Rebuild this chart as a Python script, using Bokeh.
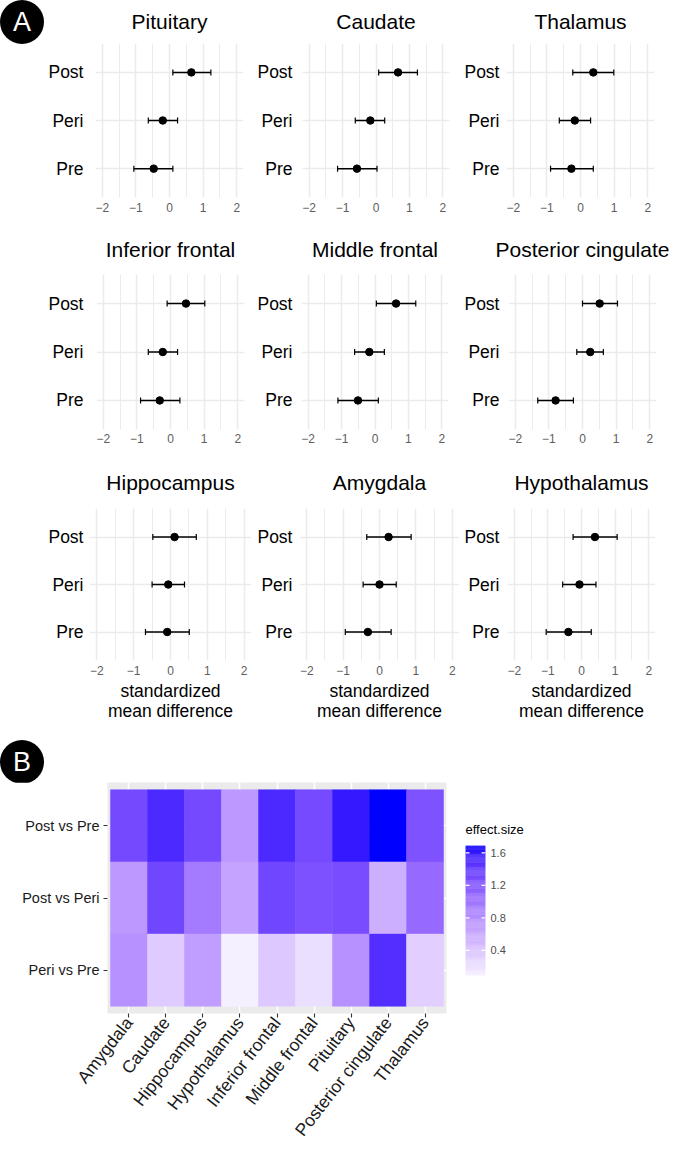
import math
from bokeh.plotting import figure
from bokeh.models import (ColumnDataSource, FactorRange, Range1d, FixedTicker, Whisker, TeeHead,
                          LinearColorMapper, Spacer, Div)
from bokeh.layouts import row, column
from bokeh.embed import file_html
from bokeh.resources import INLINE

FONT = "Liberation Sans"

# ---------------- data: panel A (order Post, Peri, Pre) ----------------
timepoints = ["Post", "Peri", "Pre"]
x_ticks = [-2, -1, 0, 1, 2]

pituitary_mean = [0.65, -0.20, -0.47]
pituitary_lo = [0.10, -0.63, -1.06]
pituitary_hi = [1.23, 0.24, 0.10]

caudate_mean = [0.66, -0.17, -0.57]
caudate_lo = [0.08, -0.62, -1.15]
caudate_hi = [1.24, 0.26, 0.03]

thalamus_mean = [0.38, -0.17, -0.27]
thalamus_lo = [-0.23, -0.63, -0.89]
thalamus_hi = [0.99, 0.30, 0.38]

inferior_frontal_mean = [0.46, -0.23, -0.32]
inferior_frontal_lo = [-0.10, -0.66, -0.89]
inferior_frontal_hi = [1.02, 0.21, 0.28]

middle_frontal_mean = [0.63, -0.17, -0.51]
middle_frontal_lo = [0.04, -0.61, -1.11]
middle_frontal_hi = [1.22, 0.28, 0.10]

posterior_cingulate_mean = [0.51, 0.23, -0.80]
posterior_cingulate_lo = [0.00, -0.17, -1.33]
posterior_cingulate_hi = [1.04, 0.62, -0.27]

hippocampus_mean = [0.11, -0.06, -0.09]
hippocampus_lo = [-0.48, -0.50, -0.68]
hippocampus_hi = [0.70, 0.38, 0.51]

amygdala_mean = [0.25, 0.00, -0.32]
amygdala_lo = [-0.35, -0.45, -0.94]
amygdala_hi = [0.87, 0.46, 0.32]

hypothalamus_mean = [0.40, -0.06, -0.39]
hypothalamus_lo = [-0.25, -0.56, -1.05]
hypothalamus_hi = [1.06, 0.43, 0.29]

# ---------------- data: panel B ----------------
heat_regions = ["Amygdala", "Caudate", "Hippocampus", "Hypothalamus", "Inferior frontal",
                "Middle frontal", "Pituitary", "Posterior cingulate", "Thalamus"]
comparisons = ["Post vs Pre", "Post vs Peri", "Peri vs Pre"]
es_post_vs_pre = [1.32, 1.53, 1.32, 0.73, 1.53, 1.31, 1.61, 1.69, 1.26]
es_post_vs_peri = [0.73, 1.34, 0.97, 0.65, 1.34, 1.27, 1.29, 0.57, 1.08]
es_peri_vs_pre = [0.79, 0.36, 0.70, 0.09, 0.38, 0.22, 0.79, 1.50, 0.33]
legend_ticks = [0.4, 0.8, 1.2, 1.6]


def forest(title, mean, lo, hi, geo, xlabel=None):
    mbl, fw, mbr, mbt, fh, mbb, tstand, ystand, xstand = geo
    p = figure(width=mbl + fw + mbr, height=mbt + fh + mbb,
               x_range=Range1d(-2.2, 2.2),
               y_range=FactorRange(factors=["Pre", "Peri", "Post"], range_padding=0.1,
                                   range_padding_units="absolute"),
               min_border_left=mbl, min_border_right=mbr, min_border_top=mbt, min_border_bottom=mbb,
               output_backend="svg", toolbar_location=None, title=title)
    p.outline_line_color = None
    p.title.text_font = FONT
    p.title.text_font_size = "21px"
    p.title.text_font_style = "normal"
    p.title.text_color = "black"
    p.title.align = "center"
    p.title.vertical_align = "top"
    p.title.standoff = tstand

    p.xaxis.ticker = FixedTicker(ticks=x_ticks, minor_ticks=[-1.5, -0.5, 0.5, 1.5])
    for ax in (p.xaxis[0], p.yaxis[0]):
        ax.axis_line_color = None
        ax.major_tick_line_color = None
        ax.minor_tick_line_color = None
        ax.major_tick_in = 0
        ax.major_tick_out = 0
        ax.major_label_text_font = FONT
    p.xaxis.major_label_text_font_size = "12px"
    p.xaxis.major_label_text_color = "#5e5e5e"
    p.xaxis.major_label_standoff = xstand
    p.yaxis.major_label_text_font_size = "17.5px"
    p.yaxis.major_label_text_color = "black"
    p.yaxis.major_label_standoff = ystand
    if xlabel:
        p.xaxis.axis_label = xlabel
        p.xaxis.axis_label_text_font = FONT
        p.xaxis.axis_label_text_font_size = "17.5px"
        p.xaxis.axis_label_text_font_style = "normal"
        p.xaxis.axis_label_text_color = "black"
        p.xaxis.axis_label_standoff = 3
        p.xaxis.axis_label_text_line_height = 1.0

    p.xgrid.grid_line_color = "#EBEBEB"
    p.xgrid.grid_line_width = 1.5
    p.xgrid.minor_grid_line_color = "#EBEBEB"
    p.xgrid.minor_grid_line_width = 1.0
    p.ygrid.grid_line_color = "#EBEBEB"
    p.ygrid.grid_line_width = 1.5

    src = ColumnDataSource(dict(cat=timepoints, m=mean, lo=lo, hi=hi))
    w = Whisker(source=src, base="cat", lower="lo", upper="hi", dimension="width",
                line_color="black", line_width=1.5,
                lower_head=TeeHead(size=6, line_width=1.2, line_color="black"),
                upper_head=TeeHead(size=6, line_width=1.2, line_color="black"))
    p.add_layout(w)
    p.scatter("m", "cat", source=src, size=7.5, color="black")
    return p


def badge(letter, w, h, top):
    html = ('<div style="margin:0;margin-top:%dpx;width:44px;height:44px;border-radius:22px;'
            'background:#000;color:#fff;font-family:\'Liberation Sans\';font-size:27px;'
            'line-height:44px;text-align:center;">%s</div>' % (top, letter))
    return Div(text=html, width=w, height=h, margin=0)


# geometry: mbl, frame_w, mbr, mbt, frame_h, mbb, title standoff, y-label standoff, x-label standoff
r1 = [(51, 148, 4), (55, 147, 7), (50, 148, 25)]
r2 = [(52, 148, 8), (49, 147, 8), (52, 148, 23)]
r3 = [(45, 162, 2), (46, 160, 2), (46, 148, 26)]
r1y, r2y, r3y = (43, 154, 27), (50, 155, 25), (54, 152, 68)
ys1, ys2, ys3 = [12, 10, 7], [13, 9, 9], [6, 7, 8]
t1, t2, t3 = 17, 24, 26
xs1, xs2, xs3 = 1, 0, 1

f1 = forest("Pituitary", pituitary_mean, pituitary_lo, pituitary_hi, r1[0] + r1y + (t1, ys1[0], xs1))
f2 = forest("Caudate", caudate_mean, caudate_lo, caudate_hi, r1[1] + r1y + (t1, ys1[1], xs1))
f3 = forest("Thalamus", thalamus_mean, thalamus_lo, thalamus_hi, r1[2] + r1y + (t1, ys1[2], xs1))
f4 = forest("Inferior frontal", inferior_frontal_mean, inferior_frontal_lo, inferior_frontal_hi, r2[0] + r2y + (t2, ys2[0], xs2))
f5 = forest("Middle frontal", middle_frontal_mean, middle_frontal_lo, middle_frontal_hi, r2[1] + r2y + (t2, ys2[1], xs2))
f6 = forest("Posterior cingulate", posterior_cingulate_mean, posterior_cingulate_lo, posterior_cingulate_hi, r2[2] + r2y + (t2, ys2[2], xs2))
xl = "standardized\nmean difference"
f7 = forest("Hippocampus", hippocampus_mean, hippocampus_lo, hippocampus_hi, r3[0] + r3y + (t3, ys3[0], xs3), xl)
f8 = forest("Amygdala", amygdala_mean, amygdala_lo, amygdala_hi, r3[1] + r3y + (t3, ys3[1], xs3), xl)
f9 = forest("Hypothalamus", hypothalamus_mean, hypothalamus_lo, hypothalamus_hi, r3[2] + r3y + (t3, ys3[2], xs3), xl)

badge_a = badge("A", 44, 224, 0)
badge_b = badge("B", 60, 54, 12)


# ---------------- panel B heatmap ----------------
def hex_to_lab(h):
    rgb = [int(h[i:i + 2], 16) / 255 for i in (1, 3, 5)]
    lin = [c / 12.92 if c <= 0.04045 else ((c + 0.055) / 1.055) ** 2.4 for c in rgb]
    X = (0.4124564 * lin[0] + 0.3575761 * lin[1] + 0.1804375 * lin[2]) / 0.95047
    Y = 0.2126729 * lin[0] + 0.7151522 * lin[1] + 0.0721750 * lin[2]
    Z = (0.0193339 * lin[0] + 0.1191920 * lin[1] + 0.9503041 * lin[2]) / 1.08883
    f = lambda t: t ** (1 / 3) if t > 0.008856 else 7.787 * t + 16 / 116
    fx, fy, fz = f(X), f(Y), f(Z)
    return 116 * fy - 16, 500 * (fx - fy), 200 * (fy - fz)


def lab_to_hex(L, a, b):
    fy = (L + 16) / 116
    fx = fy + a / 500
    fz = fy - b / 200
    finv = lambda t: t ** 3 if t ** 3 > 0.008856 else (t - 16 / 116) / 7.787
    X, Y, Z = 0.95047 * finv(fx), finv(fy), 1.08883 * finv(fz)
    r = 3.2404542 * X - 1.5371385 * Y - 0.4985314 * Z
    g = -0.9692660 * X + 1.8760108 * Y + 0.0415560 * Z
    bb = 0.0556434 * X - 0.2040259 * Y + 1.0572252 * Z

    def gam(c):
        c = min(max(c, 0.0), 1.0)
        return 12.92 * c if c <= 0.0031308 else 1.055 * c ** (1 / 2.4) - 0.055
    return "#%02x%02x%02x" % tuple(int(round(gam(c) * 255)) for c in (r, g, bb))


lab_low, lab_high = hex_to_lab("#F5F0FF"), hex_to_lab("#0000FF")
palette = [lab_to_hex(*[lo + (hi - lo) * i / 255 for lo, hi in zip(lab_low, lab_high)]) for i in range(256)]

all_es = es_post_vs_pre + es_post_vs_peri + es_peri_vs_pre
es_min, es_max = min(all_es), max(all_es)
mapper = LinearColorMapper(palette=palette, low=es_min, high=es_max)

hx, hy, hv = [], [], []
for comp, vals in zip(comparisons, [es_post_vs_pre, es_post_vs_peri, es_peri_vs_pre]):
    for reg, v in zip(heat_regions, vals):
        hx.append(reg)
        hy.append(comp)
        hv.append(v)
hsrc = ColumnDataSource(dict(region=hx, comp=hy, es=hv))

heat = figure(width=455, height=370,
              x_range=FactorRange(factors=heat_regions, range_padding=0.08, range_padding_units="absolute"),
              y_range=FactorRange(factors=comparisons[::-1], range_padding=0.1, range_padding_units="absolute"),
              min_border_left=107, min_border_right=9, min_border_top=0, min_border_bottom=139,
              output_backend="svg", toolbar_location=None)
heat.outline_line_color = None
heat.background_fill_color = "#EBEBEB"
heat.grid.grid_line_color = "white"
heat.grid.grid_line_width = 1.5
heat.rect("region", "comp", 1, 1, source=hsrc,
          fill_color={"field": "es", "transform": mapper},
          line_color={"field": "es", "transform": mapper}, line_width=0.5)
for ax in (heat.xaxis[0], heat.yaxis[0]):
    ax.axis_line_color = None
    ax.major_tick_line_color = "#333333"
    ax.major_tick_line_width = 1.1
    ax.major_tick_out = 4
    ax.major_tick_in = 0
    ax.major_label_text_font = FONT
    ax.major_label_text_color = "#1a1a1a"
heat.yaxis.major_label_text_font_size = "14.5px"
heat.yaxis.major_label_standoff = 4
heat.xaxis.major_label_text_font_size = "17.5px"
heat.xaxis.major_label_standoff = 2
heat.xaxis.major_label_orientation = math.radians(52)

# colour-bar legend as its own small figure
nstep = 120
step = (es_max - es_min) / nstep
leg_src = ColumnDataSource(dict(y=[es_min + (i + 0.5) * step for i in range(nstep)],
                                v=[es_min + (i + 0.5) * step for i in range(nstep)]))
leg = figure(width=90, height=186, x_range=Range1d(0, 1), y_range=Range1d(es_min, es_max),
             min_border_left=10, min_border_right=60, min_border_top=36, min_border_bottom=20,
             x_axis_location=None, y_axis_location="right", title="effect.size",
             output_backend="svg", toolbar_location=None)
leg.outline_line_color = None
leg.grid.visible = False
leg.title.text_font = FONT
leg.title.text_font_size = "13px"
leg.title.text_font_style = "normal"
leg.title.text_color = "black"
leg.title.align = "left"
leg.title.standoff = 18
leg.rect(x=0.5, y="y", width=1, height=step * 1.05, source=leg_src,
         fill_color={"field": "v", "transform": mapper},
         line_color={"field": "v", "transform": mapper}, line_width=0.3)
leg.segment(x0=0.0, x1=0.2, y0=legend_ticks, y1=legend_ticks, line_color="white", line_width=1.2)
leg.segment(x0=0.8, x1=1.0, y0=legend_ticks, y1=legend_ticks, line_color="white", line_width=1.2)
leg.yaxis.ticker = FixedTicker(ticks=legend_ticks)
leg.yaxis.axis_line_color = None
leg.yaxis.major_tick_line_color = None
leg.yaxis.major_tick_in = 0
leg.yaxis.major_tick_out = 0
leg.yaxis.minor_tick_line_color = None
leg.yaxis.major_label_text_font = FONT
leg.yaxis.major_label_text_font_size = "11px"
leg.yaxis.major_label_text_color = "#4D4D4D"
leg.yaxis.major_label_standoff = 5

layout = column(
    row(badge_a, f1, f2, f3),
    row(Spacer(width=44, height=230), f4, f5, f6),
    row(Spacer(width=44, height=274), f7, f8, f9),
    badge_b,
    row(heat, column(Spacer(width=90, height=27), leg)),
)

open("out.html", "w").write(file_html(layout, INLINE))
